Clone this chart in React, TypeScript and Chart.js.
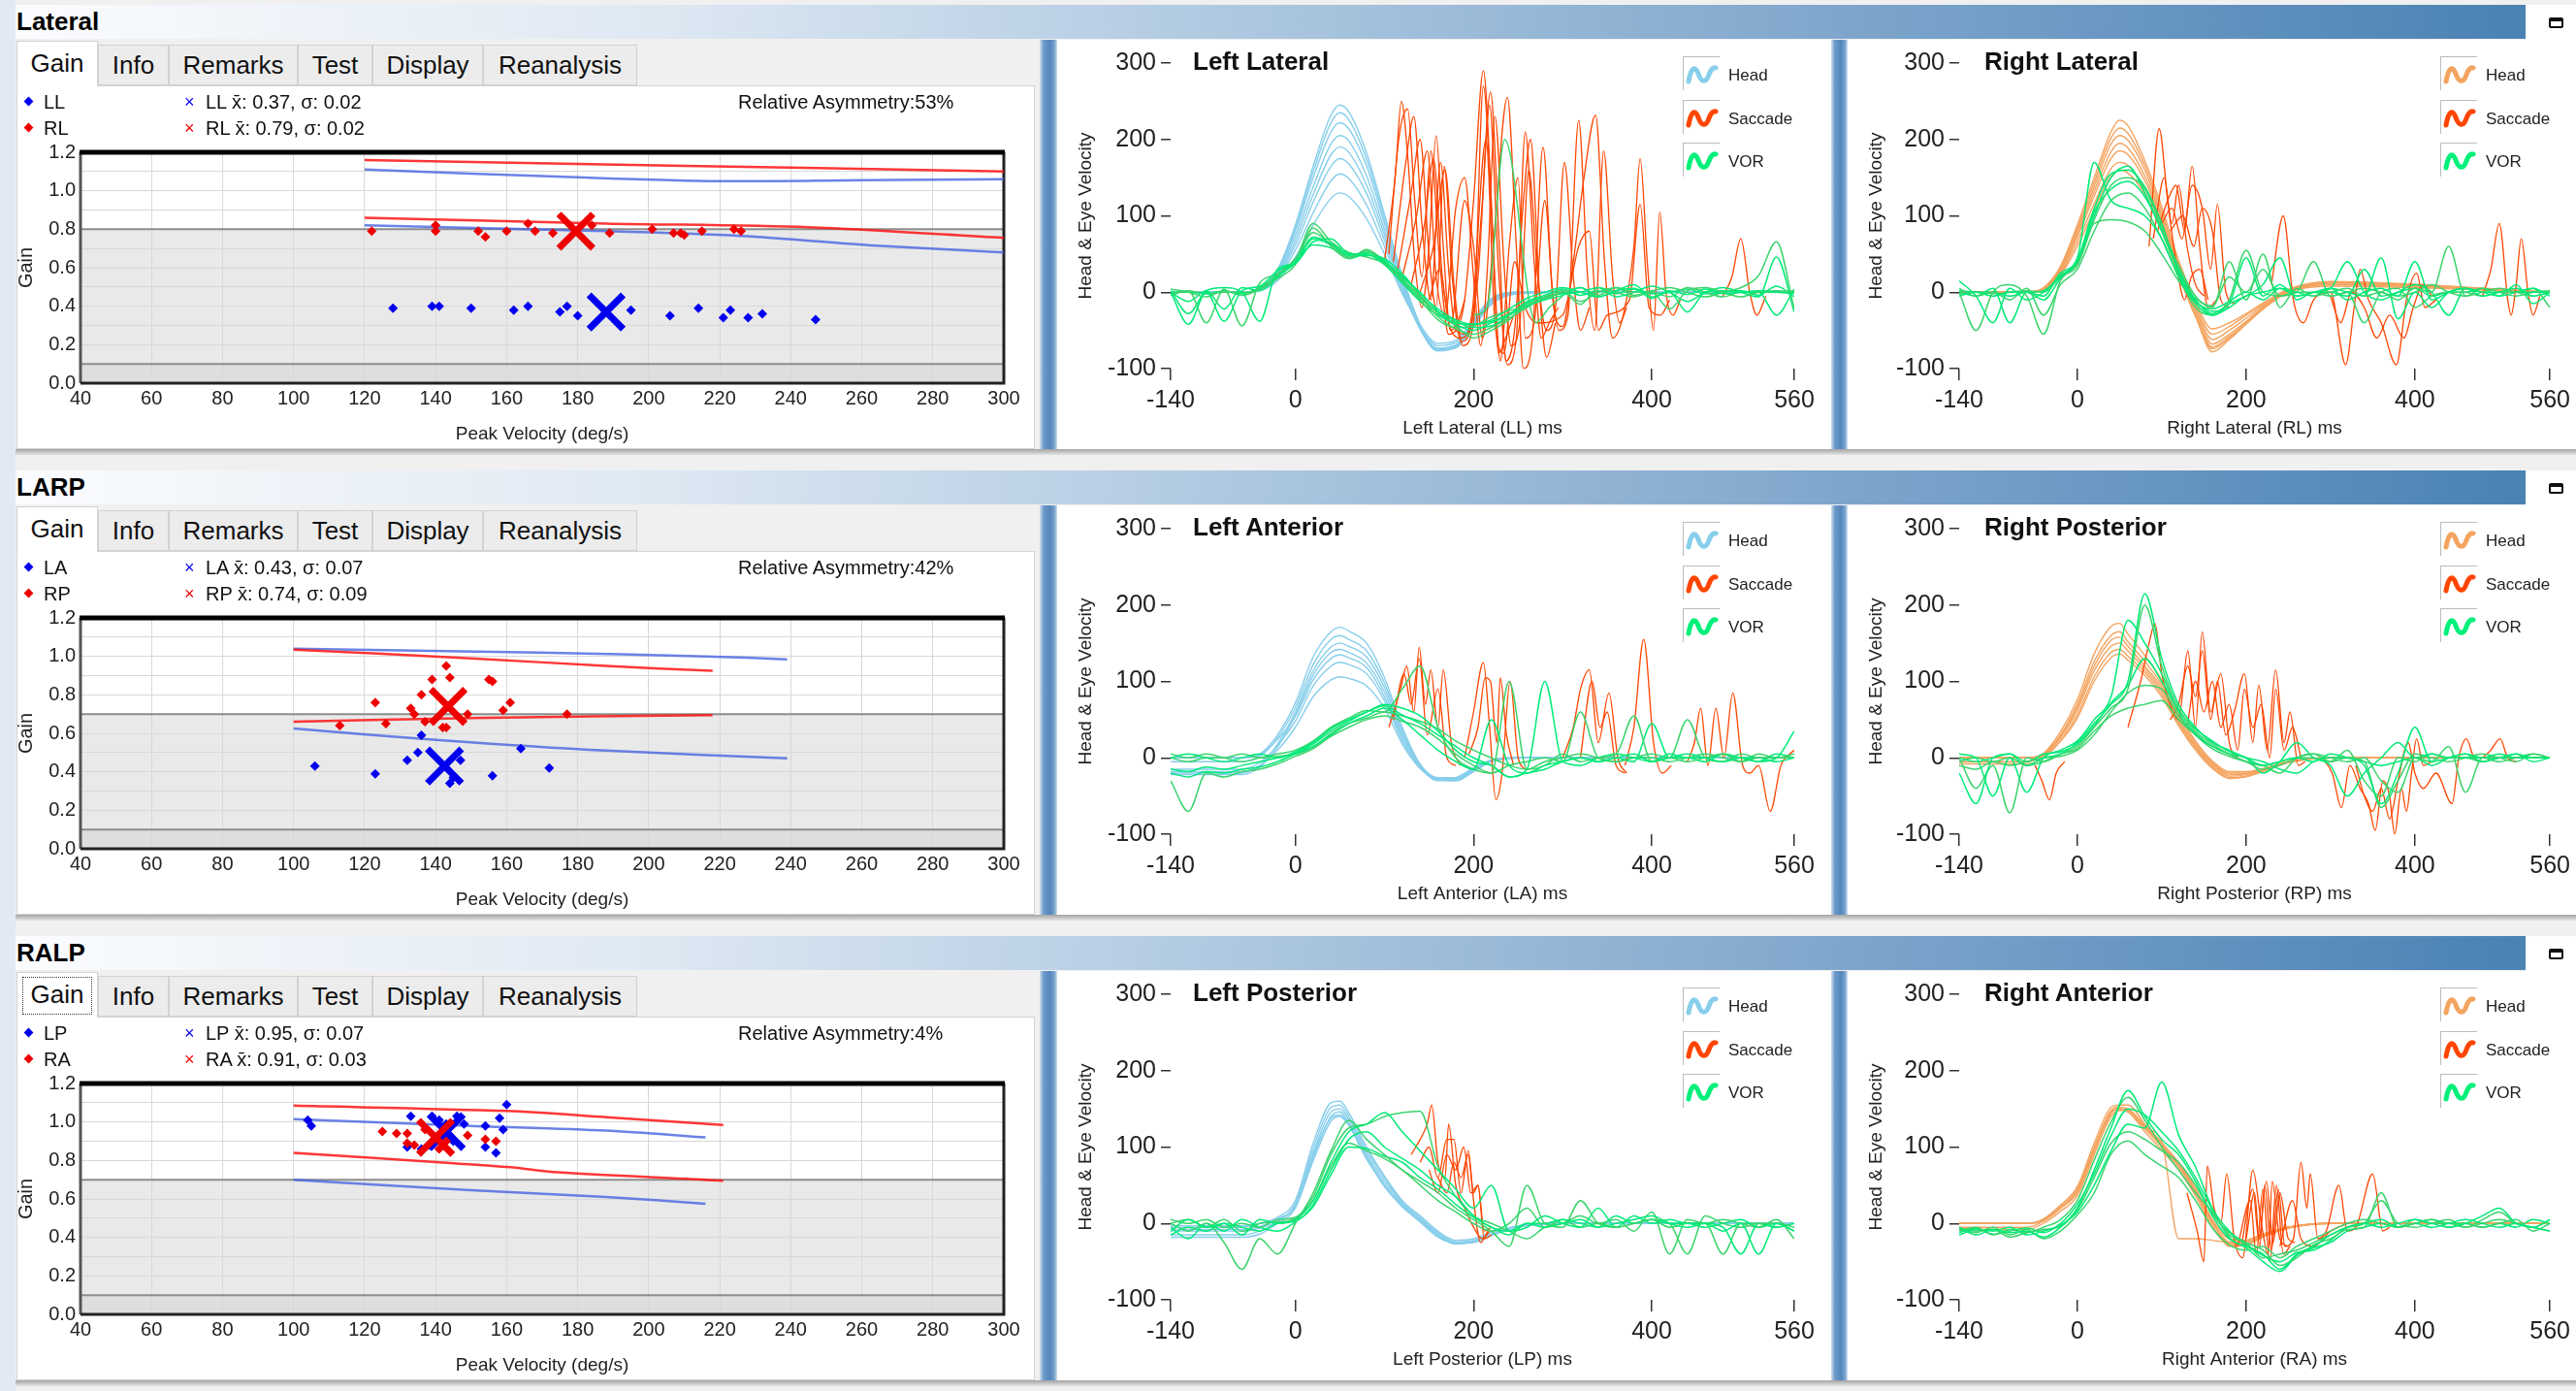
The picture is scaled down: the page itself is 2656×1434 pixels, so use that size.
import React, { useEffect, useRef } from "react";
import { Chart, registerables } from "chart.js";

Chart.register(...registerables);
const FONT = "'Liberation Sans', Arial, Helvetica, sans-serif";
Chart.defaults.font.family = FONT;

type Pair = [number, number];

// ---------------- categories / labels ----------------
const ROW_NAMES = ["Lateral", "LARP", "RALP"];
const TAB_LABELS = ["Gain", "Info", "Remarks", "Test", "Display", "Reanalysis"];
const LEFT_CANAL = ["LL", "LA", "LP"];
const RIGHT_CANAL = ["RL", "RP", "RA"];
const LEFT_MEAN_TXT = ["0.37", "0.43", "0.95"];
const LEFT_SD_TXT = ["0.02", "0.07", "0.07"];
const RIGHT_MEAN_TXT = ["0.79", "0.74", "0.91"];
const RIGHT_SD_TXT = ["0.02", "0.09", "0.03"];
const ASYMMETRY_TXT = ["53%", "42%", "4%"];
const GAIN_THRESHOLD = [0.8, 0.7, 0.7];
const WAVE_TITLES = [["Left Lateral", "Right Lateral"], ["Left Anterior", "Right Posterior"], ["Left Posterior", "Right Anterior"]];
const WAVE_X_TITLES = [["Left Lateral (LL) ms", "Right Lateral (RL) ms"], ["Left Anterior (LA) ms", "Right Posterior (RP) ms"], ["Left Posterior (LP) ms", "Right Anterior (RA) ms"]];
const WAVE_X_TICKS = [-140, 0, 200, 400, 560];
const WAVE_Y_TICKS = [-100, 0, 100, 200, 300];
const LEGEND_LABELS = ["Head", "Saccade", "VOR"];

// ---------------- gain scatter data ----------------
const LL_POINTS: Pair[] = [[128,0.39],[139,0.40],[141,0.40],[150,0.39],[162,0.38],[166,0.40],[175,0.37],[177,0.40],[180,0.35],[195,0.38],[206,0.35],[214,0.39],[221,0.34],[223,0.38],[228,0.34],[232,0.36],[247,0.33]];
const RL_POINTS: Pair[] = [[122,0.79],[140,0.82],[140,0.79],[152,0.79],[154,0.76],[160,0.79],[166,0.83],[168,0.79],[173,0.78],[184,0.82],[189,0.78],[201,0.80],[207,0.78],[209,0.78],[210,0.77],[215,0.79],[224,0.80],[226,0.79]];
const LA_POINTS: Pair[] = [[106,0.43],[123,0.39],[132,0.46],[135,0.50],[136,0.59],[147,0.46],[144,0.34],[145,0.37],[156,0.38],[164,0.52],[172,0.42]];
const RP_POINTS: Pair[] = [[143,0.95],[139,0.88],[144,0.89],[155,0.88],[156,0.87],[136,0.80],[123,0.76],[133,0.73],[134,0.70],[161,0.76],[159,0.72],[177,0.70],[149,0.70],[113,0.64],[126,0.65],[137,0.66],[142,0.63],[143,0.63]];
const LP_POINTS: Pair[] = [[104,1.01],[105,0.98],[133,1.03],[132,0.87],[136,0.86],[139,1.03],[141,1.01],[143,0.99],[146,1.03],[148,0.99],[145,0.90],[154,0.98],[154,0.87],[158,1.02],[159,0.96],[157,0.84],[160,1.09],[138,0.88],[144,0.93]];
const RA_POINTS: Pair[] = [[125,0.95],[129,0.94],[132,0.94],[132,0.89],[134,0.88],[137,0.96],[149,0.93],[154,0.91],[157,0.90],[141,0.86],[143,0.90]];
const LL_MEAN: Pair = [188, 0.37];
const RL_MEAN: Pair = [179.5, 0.79];
const LA_MEAN: Pair = [142.5, 0.43];
const RP_MEAN: Pair = [143.5, 0.74];
const LP_MEAN: Pair = [143, 0.95];
const RA_MEAN: Pair = [140, 0.92];

const LAT_RED_HI: Pair[] = [[120,1.16],[180,1.14],[240,1.12],[300,1.10]];
const LAT_BLUE_HI: Pair[] = [[120,1.11],[180,1.07],[220,1.05],[260,1.055],[300,1.06]];
const LAT_RED_LO: Pair[] = [[120,0.86],[188,0.83],[245,0.81],[300,0.755]];
const LAT_BLUE_LO: Pair[] = [[120,0.82],[188,0.79],[226,0.765],[264,0.715],[300,0.68]];
const LARP_RED_HI: Pair[] = [[100,1.035],[150,0.99],[188,0.95],[218,0.925]];
const LARP_BLUE_HI: Pair[] = [[100,1.04],[169,1.02],[216,1.0],[239,0.985]];
const LARP_RED_LO: Pair[] = [[100,0.66],[150,0.68],[218,0.695]];
const LARP_BLUE_LO: Pair[] = [[100,0.625],[141,0.565],[188,0.51],[239,0.47]];
const RALP_RED_HI: Pair[] = [[100,1.085],[160,1.057],[188,1.025],[221,0.985]];
const RALP_BLUE_HI: Pair[] = [[100,1.015],[150,0.98],[188,0.955],[216,0.92]];
const RALP_RED_LO: Pair[] = [[100,0.84],[141,0.79],[161,0.765],[173,0.74],[221,0.695]];
const RALP_BLUE_LO: Pair[] = [[100,0.70],[150,0.645],[188,0.61],[216,0.575]];

// ---------------- waveform data ----------------
const T20 = [-140,-120,-100,-80,-60,-40,-20,0,20,40,60,80,100,120,140,160,180,200,220,240,260,280,300,320,340,360,380,400,420,440,460,480,500,520,540,560];
const HT = [-140,-60,-40,-20,0,20,40,50,60,80,100,120,140,160,180,200,220,250,300,560];

const LL_HEAD = [
  [0,0,5,30,88,165,232,245,236,182,102,22,-42,-74,-72,-46,-16,-2,0,0],
  [0,0,4,28,84,158,222,235,226,174,96,18,-45,-75,-73,-44,-14,-2,0,0],
  [0,0,4,26,80,150,210,222,214,165,90,14,-46,-76,-71,-42,-12,-1,0,0],
  [0,0,3,24,74,138,194,205,198,152,82,10,-48,-77,-72,-43,-13,-1,0,0],
  [0,0,3,22,68,128,180,190,183,140,75,6,-47,-73,-69,-40,-11,-1,0,0],
  [0,0,3,20,62,118,165,175,168,129,68,4,-48,-74,-70,-41,-10,0,0,0],
  [0,0,2,18,55,104,146,155,149,114,60,1,-45,-70,-66,-38,-9,0,0,0],
  [0,0,2,15,46,88,123,130,125,96,50,-2,-43,-67,-63,-36,-8,0,0,0],
];
const LL_VOR = [
  [0,-42,0,-38,2,8,28,40,72,64,50,50,40,20,0,-25,-42,-50,-40,-30,-18,-10,-4,6,-6,2,5,-8,2,-3,4,-2,0,2,0,-2],
  [-4,2,-40,4,-44,12,24,44,78,62,46,54,38,18,-6,-32,-48,-55,-46,-34,-20,-6,2,-12,0,6,-4,0,-22,2,6,0,-6,0,2,0],
  [2,-28,2,6,0,-38,30,38,66,70,50,48,44,24,-2,-22,-36,-42,-36,-22,-8,0,6,0,-6,2,10,-6,0,-26,0,2,0,0,-30,4],
  [4,0,-6,2,-4,4,18,36,84,60,44,56,40,14,-10,-36,-46,-44,-32,-24,-18,-8,0,6,-4,6,0,2,6,0,-6,0,6,22,66,-22],
  [0,-12,2,-22,6,2,20,40,62,58,44,50,36,12,-12,-30,-40,-42,-38,-28,-14,-6,-2,0,6,-6,0,8,0,-12,0,6,0,-6,46,-26],
  [-2,2,-2,0,0,4,24,42,90,66,52,46,38,22,-4,-28,-44,-60,-50,-36,-16,-10,0,-16,6,0,-6,0,-6,6,0,-6,0,0,0,2],
  [0,0,-2,2,-2,6,22,38,70,62,48,52,42,16,-8,-26,-38,-46,-44,-30,-12,-4,4,-4,2,-2,4,-2,0,4,-2,0,2,-4,8,-6],
];
const LL_VOR_EXTRA: Pair[][] = [[[200,-30],[215,-20],[235,200],[270,-40],[285,-20],[300,-5]]];
const LL_SACCADE: Pair[][] = [
  [[100,40],[112,150],[119,250],[126,180],[134,40],[142,-20],[150,60],[158,205],[166,60],[174,-50],[182,-40],[190,-10]],
  [[105,50],[116,200],[126,240],[134,120],[142,20],[152,185],[162,40],[172,-55],[180,-50],[190,-10],[200,120],[211,290],[220,120],[228,-80],[236,-60],[245,-30]],
  [[110,40],[124,170],[133,230],[142,90],[152,-10],[163,170],[172,30],[180,-50],[192,-55],[205,20],[219,262],[229,60],[236,-90],[246,-50],[256,120],[264,200],[274,0],[282,-85],[292,-40]],
  [[115,30],[130,130],[140,200],[150,50],[158,-20],[167,165],[176,20],[186,-65],[198,-40],[210,120],[218,245],[228,30],[238,-95],[248,-60],[258,210],[268,40],[276,-60],[285,-40],[295,-20]],
  [[120,20],[136,100],[148,185],[158,20],[168,-30],[180,110],[190,150],[200,20],[208,-70],[216,40],[224,230],[234,40],[242,-70],[252,-40],[262,160],[272,20],[282,-50],[292,-20],[302,170],[312,20],[320,-50],[330,-20]],
  [[130,10],[145,90],[155,175],[165,20],[175,-40],[190,120],[200,60],[210,-60],[222,60],[238,255],[248,60],[256,-100],[266,-60],[278,190],[288,10],[296,-50],[306,-30],[318,225],[328,20],[336,-50],[346,185],[356,20],[364,-40],[372,-20]],
  [[140,0],[155,60],[168,160],[178,10],[188,-70],[200,-40],[211,270],[222,60],[230,-90],[240,60],[250,150],[258,-60],[268,-40],[280,120],[290,-20],[300,-45],[312,40],[324,150],[337,232],[347,40],[356,-60],[368,-30],[380,60],[387,175],[395,40],[402,-50],[409,105],[416,0],[424,-30],[432,-10]],
  [[150,-10],[162,30],[172,-40],[186,-60],[198,-30],[214,200],[224,-40],[234,-80],[246,40],[258,-20],[272,-40],[300,-30],[318,60],[330,80],[340,-50],[350,-30],[375,-10],[387,115],[397,-20],[410,-30],[420,-10]],
  [[480,-5],[490,20],[500,70],[510,0],[518,-30],[528,-5]],
];

const RL_HEAD = [
  [0,0,6,34,88,150,210,225,218,172,112,42,-12,-48,-40,-28,-14,4,14,0],
  [0,0,5,32,84,144,202,215,208,166,106,38,-16,-55,-45,-30,-16,3,13,0],
  [0,0,5,30,80,138,194,205,199,160,100,34,-20,-62,-50,-34,-18,2,12,0],
  [0,0,4,28,76,132,184,195,189,152,96,30,-24,-68,-55,-38,-20,2,12,0],
  [0,0,4,26,72,126,175,185,180,146,92,28,-28,-74,-60,-40,-22,1,10,0],
  [0,0,4,24,66,116,162,170,166,136,86,26,-30,-78,-62,-42,-22,0,10,0],
  [0,0,3,22,60,108,152,160,156,128,80,22,-32,-72,-58,-40,-20,0,8,0],
];
const RL_VOR = [
  [15,-5,-40,5,-10,0,20,40,100,150,165,130,80,30,-10,-25,-15,45,-5,10,-5,0,5,-10,0,5,-5,40,-10,0,5,-5,0,5,-5,0],
  [0,-50,0,10,-5,-55,15,35,95,140,150,135,85,35,-5,-20,40,-10,50,-20,5,-5,0,5,-5,0,-10,5,0,60,-5,0,5,0,-5,0],
  [-5,0,-5,0,0,-5,25,45,170,120,110,100,70,20,-15,-30,-20,-5,0,5,0,-5,5,0,-5,45,-35,0,-20,0,5,0,-5,0,5,-5],
  [5,-5,0,-10,5,-30,10,30,80,120,130,110,70,20,-20,-30,-10,55,0,-5,0,40,-5,0,-40,0,5,-20,-5,0,0,-5,0,0,5,-20],
  [0,-5,5,-40,0,-10,18,42,110,155,160,138,90,25,-12,-22,-12,0,-10,5,-5,0,5,40,0,-10,0,10,0,-30,5,0,0,0,0,0],
  [-2,0,-2,0,2,0,20,38,90,95,92,80,50,15,-8,-18,20,0,30,-5,0,0,-5,0,5,0,-5,0,10,0,-5,5,0,-5,0,2],
  [2,0,0,-5,0,2,22,40,105,135,145,125,80,28,-10,-28,-15,-5,10,45,-10,0,0,-5,30,-5,0,5,-5,0,0,5,-5,10,-15,0],
];
const RL_SACCADE: Pair[][] = [
  [[85,60],[97,214],[107,120],[117,40],[127,-10],[135,20],[145,30],[155,-10]],
  [[90,70],[103,150],[112,90],[120,140],[130,60],[140,10],[150,-5]],
  [[95,80],[107,120],[117,140],[127,80],[136,165],[145,60],[155,-20],[165,-10]],
  [[100,90],[112,110],[124,70],[136,140],[148,110],[158,30],[166,115],[176,0],[186,-15]],
  [[110,80],[125,100],[138,60],[148,110],[160,80],[170,-10],[180,-20]],
  [[230,10],[244,100],[256,-10],[268,-40],[280,-10],[300,0],[318,-95],[328,-20],[335,30],[345,-10],[360,-40],[378,-95],[390,-10],[402,25],[412,-20],[425,-10]],
  [[300,-5],[312,-40],[325,0],[340,-20],[355,-60],[370,-30],[387,-60],[398,-20],[410,10],[420,-5]],
  [[480,-5],[490,30],[500,90],[510,-10],[514,-30],[520,10],[526,70],[534,0],[540,-30],[548,-5]],
];

const LA_HEAD = [
  [0,0,5,30,72,132,165,171,166,150,105,40,-8,-28,-30,-18,-5,0,0,0],
  [-5,-5,2,26,66,122,155,160,155,140,98,36,-10,-28,-29,-16,-4,0,0,0],
  [-18,-18,-10,18,60,114,145,150,146,132,92,32,-10,-27,-28,-15,-4,0,0,0],
  [-22,-22,-12,14,56,108,138,142,138,124,86,28,-12,-30,-30,-18,-5,0,0,0],
  [0,0,4,24,54,102,130,135,131,118,80,26,-10,-26,-26,-14,-3,0,0,0],
  [-15,-15,-6,16,48,94,120,125,122,110,75,22,-12,-28,-27,-14,-3,0,0,0],
  [-20,-20,-10,10,40,80,102,106,104,94,65,18,-14,-28,-26,-13,-3,0,0,0],
];
const LA_VOR = [
  [-20,-25,-18,-20,-15,-12,-5,5,15,30,45,55,65,50,30,10,-5,-15,50,-10,-20,-10,-5,0,-5,0,5,-5,0,5,0,-5,0,-5,0,35],
  [-30,-70,-20,-25,-18,-15,-8,2,12,28,40,50,55,48,40,25,5,-10,-20,100,-15,-10,5,-5,0,5,55,-5,0,-5,0,5,-5,0,0,5],
  [0,5,0,-5,0,5,0,8,20,38,50,60,70,65,55,35,10,-5,-10,-25,-15,100,-5,-10,0,5,0,-5,5,0,0,5,0,0,-5,0],
  [5,0,5,0,-5,0,5,10,22,40,52,62,60,90,120,40,0,-15,-20,-10,-5,0,-5,60,0,-5,0,5,0,50,0,-5,5,0,0,0],
  [-15,-18,-12,-15,-10,-5,0,6,18,35,48,60,68,56,45,30,15,0,-10,-25,-20,-15,-5,0,-5,0,-5,45,0,0,-5,5,0,-5,5,0],
  [0,-5,0,0,5,0,2,5,14,32,45,52,60,55,48,38,22,10,0,-10,-15,-5,0,5,0,-5,0,0,-5,0,5,0,-5,5,0,0],
];
const LA_SACCADE: Pair[][] = [
  [[105,40],[118,90],[125,120],[133,60],[139,145],[146,70],[152,115],[160,40],[166,115],[175,20],[185,-10]],
  [[110,50],[122,110],[130,70],[139,130],[148,30],[160,90],[170,0],[180,-10]],
  [[190,0],[200,60],[211,125],[218,40],[225,-55],[232,-20],[241,100],[250,0],[258,-15]],
  [[195,5],[205,40],[213,105],[219,100],[226,20],[230,105],[237,30],[245,-10]],
  [[300,0],[312,40],[320,90],[330,115],[340,20],[352,85],[362,0],[372,-20]],
  [[370,-10],[380,40],[391,155],[402,20],[412,-20],[422,-10]],
  [[440,-5],[448,20],[455,65],[463,-10],[472,65],[481,0],[491,85],[502,-10],[510,-20],[520,-10],[533,-70],[545,-10],[555,5],[560,10]],
  [[320,0],[333,100],[342,40],[350,60],[360,-10],[370,-20]],
];

const RP_HEAD = [
  [0,0,6,34,76,136,172,176,162,134,102,58,22,-4,-18,-18,-14,-5,0,0],
  [0,0,5,30,70,126,160,165,152,126,96,54,20,-6,-20,-20,-15,-5,0,0],
  [-5,-5,3,28,66,120,154,158,146,120,92,50,17,-8,-22,-21,-16,-6,0,0],
  [0,0,4,26,62,114,146,150,140,116,88,48,15,-10,-24,-22,-16,-5,0,0],
  [-8,-8,0,22,56,106,138,142,133,112,84,45,13,-12,-26,-24,-17,-6,0,0],
  [0,0,3,22,52,100,131,136,128,108,80,42,10,-14,-27,-25,-18,-6,0,0],
];
const RP_VOR = [
  [-20,-60,0,5,-10,0,5,20,45,70,100,215,130,70,40,20,10,0,-10,-5,0,-5,5,0,-10,-60,-20,40,-5,0,5,-5,0,5,0,0],
  [0,-40,-10,-72,0,-5,5,15,40,65,90,200,120,65,35,18,5,-5,-15,-10,0,5,0,-5,0,-30,-45,0,-5,15,-45,0,-5,0,5,0],
  [5,0,-50,0,-45,0,10,22,50,80,180,150,110,60,32,15,5,0,-20,-5,20,0,-10,-50,-20,0,20,0,5,0,0,0,5,0,0,0],
  [-10,-15,-5,-10,-5,0,2,10,30,60,85,95,90,55,30,12,2,-5,-10,-20,0,5,-5,0,-5,-65,-30,5,0,-5,0,5,0,-5,5,0],
  [0,-5,0,5,-5,5,8,18,42,72,95,130,100,62,38,22,8,0,-5,-15,-20,-5,0,0,-5,-10,-5,0,-10,0,5,0,0,5,-5,0],
  [-5,0,-5,0,-10,-5,5,12,35,55,65,70,75,50,30,15,5,-5,-10,-5,0,0,-5,10,-30,-50,0,-5,5,0,0,-5,0,0,0,0],
];
const RP_SACCADE: Pair[][] = [
  [[60,40],[75,100],[85,150],[92,176],[100,110],[110,70],[120,50],[131,140],[140,40],[148,165],[158,60],[170,110],[180,20],[190,0]],
  [[110,50],[120,70],[131,120],[140,80],[148,140],[158,50],[166,100],[176,30],[186,60],[198,110],[208,20],[215,95],[225,10],[235,115],[245,20],[252,60],[262,-10],[270,-5]],
  [[130,40],[140,100],[150,60],[160,100],[170,40],[180,70],[190,10],[198,90],[208,40],[218,70],[228,0],[235,90],[245,10],[255,40],[265,0]],
  [[-50,-10],[-42,-30],[-33,-55],[-25,-20],[-15,-5]],
  [[290,0],[302,-20],[313,-65],[323,-10],[335,-40],[345,-60],[353,-95],[362,-30],[370,-50],[376,-100],[384,-40],[390,-70],[396,-20],[402,25],[410,-10],[420,-5]],
  [[330,-10],[340,-50],[350,-70],[360,-40],[370,-80],[380,-30],[392,20],[400,-20],[410,-40],[425,-20],[444,-60],[452,0],[461,25],[470,0],[480,-5]],
  [[480,0],[490,10],[501,25],[510,0],[520,-5]],
];

const LP_HEAD = [
  [-5,-5,0,8,30,105,158,160,145,100,62,30,10,-10,-22,-20,-12,-3,0,0],
  [-15,-15,-10,2,26,98,152,155,140,96,60,28,8,-12,-24,-22,-14,-4,0,0],
  [-8,-8,-4,6,24,92,146,150,136,92,56,26,6,-14,-25,-24,-15,-4,0,0],
  [-18,-18,-14,0,20,86,140,146,132,88,52,24,4,-15,-26,-25,-16,-5,0,0],
  [-3,-3,0,5,22,82,134,140,128,84,50,22,3,-16,-27,-24,-15,-4,0,0],
  [-10,-10,-6,3,24,90,138,142,130,86,48,22,2,-18,-26,-24,-15,-4,0,0],
];
const LP_VOR = [
  [-10,5,-5,0,-15,5,0,5,30,80,120,130,145,120,95,70,45,20,50,-10,0,-5,0,5,-5,0,5,10,0,-5,0,-10,0,-40,0,-10],
  [0,-10,0,-25,-60,-20,-40,0,40,95,135,110,90,70,55,40,20,5,-10,-30,50,0,-5,30,0,-5,0,5,0,-40,10,0,-5,0,0,-5],
  [-15,-5,-10,0,-5,-10,0,3,25,70,110,120,100,85,70,50,35,10,-5,-10,-5,10,0,-5,20,-5,10,0,5,0,0,-5,-40,0,-5,0],
  [5,0,5,-5,0,-5,5,8,35,90,125,130,140,145,147,75,35,10,0,-10,-20,-5,0,10,0,5,-10,15,-40,5,0,5,0,-5,5,-20],
  [-5,-20,0,-10,5,-5,-10,2,22,64,100,98,88,80,60,45,25,8,-5,-15,0,0,5,0,-5,10,0,5,0,0,-5,0,5,-5,0,-10],
  [0,5,-5,5,-10,0,2,6,30,75,105,95,85,70,50,30,15,0,-10,0,20,-5,5,-5,0,-5,0,5,-5,0,0,-40,0,0,-5,0],
];
const LP_SACCADE: Pair[][] = [
  [[130,90],[140,110],[148,130],[153,155],[160,80],[168,60],[172,130],[180,50],[190,20],[200,-5],[210,-20],[218,-10]],
  [[140,80],[150,100],[160,60],[170,110],[178,110],[186,40],[194,95],[200,30],[208,-25],[216,-10]],
  [[150,70],[160,40],[170,90],[180,70],[189,100],[197,40],[205,50],[212,-10],[220,-5]],
  [[160,60],[170,40],[178,80],[186,60],[194,90],[200,40],[205,50],[212,-20],[220,-15]],
];

const RA_HEAD = [
  [0,0,6,24,48,105,152,155,155,130,106,80,46,5,-20,-22,-14,-5,0,0],
  [-5,-5,3,20,42,98,148,152,150,126,102,76,42,2,-24,-24,-15,-5,0,0],
  [0,0,5,22,45,100,146,150,148,124,100,74,40,0,-26,-26,-16,-5,0,0],
  [-8,-8,0,16,36,90,140,148,146,120,96,70,36,-4,-28,-27,-17,-6,0,0],
  [0,0,4,20,40,95,144,150,149,128,104,78,44,4,-30,-28,-18,-6,0,0],
  [0,0,4,20,42,96,145,150,148,125,108,-20,-20,-22,-25,-22,-14,-5,0,0],
];
const RA_VOR = [
  [-5,-15,-8,-12,-10,-18,-5,20,70,125,174,140,110,90,55,10,-20,-30,-40,-60,-40,-30,-15,-5,0,-5,0,5,0,-5,0,10,20,0,-5,-10],
  [-10,-5,-15,-8,-12,-5,5,30,83,133,165,135,100,70,40,15,-15,-25,-35,-55,-45,-28,-20,-8,-5,40,-5,0,5,-5,0,-5,0,5,-10,0],
  [-15,-8,-10,-5,-15,-10,-2,15,50,95,130,125,185,116,74,20,-10,-28,-42,-50,-38,-35,-22,-5,0,5,-5,0,-5,0,5,0,-5,0,-5,5],
  [-8,-12,-5,-15,-8,-20,-10,11,40,91,108,90,75,60,30,-6,-28,-35,-30,-45,-30,-20,-10,0,5,0,-5,5,0,0,-5,5,15,0,-5,-10],
  [-12,-6,-14,-10,-6,-12,0,25,65,115,150,142,120,95,60,18,-18,-32,-50,-63,-42,-32,-25,-10,-5,0,-5,0,5,0,0,-5,0,-5,5,0],
  [-6,-10,-8,-18,-12,-8,-4,18,60,105,120,110,95,80,50,12,-12,-25,-45,-40,-35,-25,-15,-5,0,30,0,-5,0,5,-5,0,5,0,-5,5],
];
const RA_SACCADE: Pair[][] = [
  [[130,40],[142,-10],[150,-50],[154,75],[162,20],[170,0],[177,65],[186,-20],[196,-45],[208,70],[218,0],[226,-40],[231,55],[240,-20],[250,-30]],
  [[200,-20],[210,40],[216,-30],[222,50],[230,-35],[238,45],[246,-30],[256,-20],[265,80],[272,20],[276,65],[285,-20],[295,-10],[310,50],[320,-10],[330,-5],[350,65],[362,-10],[370,-5]],
  [[190,-30],[205,30],[212,-40],[220,45],[228,-50],[236,50],[244,-40],[252,-30]],
  [[195,-25],[208,45],[215,-20],[224,55],[232,-25],[240,40],[250,-20],[258,-25]],
  [[240,-30],[255,30],[265,-20],[280,-30],[300,-10],[320,0]],
];

// ---------------- styling constants ----------------
const HEAD_LEFT_COLOR = "#87ceeb";
const HEAD_RIGHT_COLOR = "#f4a460";
const SACCADE_COLOR = "#ff4500";
const VOR_COLORS = ["#00ea78", "#3ad46c"];
const VOR_LEGEND = "#00f07a";
const RED = "#ee0000";
const BLUE = "#0000ee";

type WaveSpec = { head: number[][]; vor: number[][]; vorExtra: Pair[][]; sacc: Pair[][]; headColor: string };
const WAVES: WaveSpec[][] = [
  [
    { head: LL_HEAD, vor: LL_VOR, vorExtra: LL_VOR_EXTRA, sacc: LL_SACCADE, headColor: HEAD_LEFT_COLOR },
    { head: RL_HEAD, vor: RL_VOR, vorExtra: [], sacc: RL_SACCADE, headColor: HEAD_RIGHT_COLOR },
  ],
  [
    { head: LA_HEAD, vor: LA_VOR, vorExtra: [], sacc: LA_SACCADE, headColor: HEAD_LEFT_COLOR },
    { head: RP_HEAD, vor: RP_VOR, vorExtra: [], sacc: RP_SACCADE, headColor: HEAD_RIGHT_COLOR },
  ],
  [
    { head: LP_HEAD, vor: LP_VOR, vorExtra: [], sacc: LP_SACCADE, headColor: HEAD_LEFT_COLOR },
    { head: RA_HEAD, vor: RA_VOR, vorExtra: [], sacc: RA_SACCADE, headColor: HEAD_RIGHT_COLOR },
  ],
];

type GainSpec = { left: Pair[]; right: Pair[]; leftMean: Pair; rightMean: Pair; lines: { pts: Pair[]; color: string }[] };
const RED_LINE = "rgba(255,20,20,0.85)";
const BLUE_LINE = "rgba(70,100,225,0.8)";
const GAINS: GainSpec[] = [
  { left: LL_POINTS, right: RL_POINTS, leftMean: LL_MEAN, rightMean: RL_MEAN, lines: [
    { pts: LAT_RED_HI, color: RED_LINE }, { pts: LAT_RED_LO, color: RED_LINE }, { pts: LAT_BLUE_HI, color: BLUE_LINE }, { pts: LAT_BLUE_LO, color: BLUE_LINE } ] },
  { left: LA_POINTS, right: RP_POINTS, leftMean: LA_MEAN, rightMean: RP_MEAN, lines: [
    { pts: LARP_RED_HI, color: RED_LINE }, { pts: LARP_RED_LO, color: RED_LINE }, { pts: LARP_BLUE_HI, color: BLUE_LINE }, { pts: LARP_BLUE_LO, color: BLUE_LINE } ] },
  { left: LP_POINTS, right: RA_POINTS, leftMean: LP_MEAN, rightMean: RA_MEAN, lines: [
    { pts: RALP_RED_HI, color: RED_LINE }, { pts: RALP_RED_LO, color: RED_LINE }, { pts: RALP_BLUE_HI, color: BLUE_LINE }, { pts: RALP_BLUE_LO, color: BLUE_LINE } ] },
];

const toXY = (p: Pair[]) => p.map(([x, y]) => ({ x, y }));

function GainChart({ row }: { row: number }) {
  const ref = useRef<HTMLCanvasElement | null>(null);
  useEffect(() => {
    const g = GAINS[row];
    const threshold = GAIN_THRESHOLD[row];
    const framePlugin = {
      id: "gainFrame",
      beforeDraw(chart: any) {
        const { ctx, chartArea: a, scales } = chart;
        const y = scales.y;
        const yT = y.getPixelForValue(threshold);
        const y1 = y.getPixelForValue(0.1);
        ctx.save();
        ctx.fillStyle = "#ffffff";
        ctx.fillRect(a.left, a.top, a.right - a.left, a.bottom - a.top);
        ctx.fillStyle = "#e9e9e9";
        ctx.fillRect(a.left, yT, a.right - a.left, y1 - yT);
        ctx.fillStyle = "#dedede";
        ctx.fillRect(a.left, y1, a.right - a.left, a.bottom - y1);
        ctx.restore();
      },
      beforeDatasetsDraw(chart: any) {
        const { ctx, chartArea: a, scales } = chart;
        const y = scales.y;
        const yT = y.getPixelForValue(threshold);
        const y1 = y.getPixelForValue(0.1);
        ctx.save();
        ctx.strokeStyle = "#8c8c8c";
        ctx.lineWidth = 2;
        [yT, y1].forEach((yy: number) => {
          ctx.beginPath();
          ctx.moveTo(a.left, yy);
          ctx.lineTo(a.right, yy);
          ctx.stroke();
        });
        ctx.strokeStyle = "#555";
        ctx.lineWidth = 3;
        ctx.beginPath();
        ctx.moveTo(a.left, a.top);
        ctx.lineTo(a.left, a.bottom);
        ctx.stroke();
        ctx.strokeStyle = "#222";
        ctx.beginPath();
        ctx.moveTo(a.left, a.bottom);
        ctx.lineTo(a.right, a.bottom);
        ctx.lineTo(a.right, a.top);
        ctx.stroke();
        ctx.strokeStyle = "#000";
        ctx.lineWidth = 5;
        ctx.beginPath();
        ctx.moveTo(a.left - 1, a.top);
        ctx.lineTo(a.right + 1, a.top);
        ctx.stroke();
        ctx.restore();
      },
    };
    const datasets: any[] = [
      { data: toXY([g.rightMean]), pointStyle: "crossRot", pointRadius: 25, borderWidth: 7, borderColor: RED, backgroundColor: RED },
      { data: toXY([g.leftMean]), pointStyle: "crossRot", pointRadius: 25, borderWidth: 7, borderColor: BLUE, backgroundColor: BLUE },
      { data: toXY(g.right), pointStyle: "rectRot", pointRadius: 5, borderWidth: 0, backgroundColor: RED, borderColor: RED },
      { data: toXY(g.left), pointStyle: "rectRot", pointRadius: 5, borderWidth: 0, backgroundColor: BLUE, borderColor: BLUE },
      ...g.lines.map((l) => ({ data: toXY(l.pts), showLine: true, pointRadius: 0, borderWidth: 2.5, borderColor: l.color, tension: 0.3 })),
    ];
    const chart = new Chart(ref.current as HTMLCanvasElement, {
      type: "scatter",
      data: { datasets },
      plugins: [framePlugin],
      options: {
        animation: false,
        responsive: false,
        events: [],
        layout: { padding: { left: 0, right: 31, top: 69, bottom: 0 } },
        plugins: { legend: { display: false }, tooltip: { enabled: false } },
        scales: {
          x: {
            type: "linear", min: 40, max: 300,
            afterFit: (s: any) => { s.height = 68; },
            grid: { color: "#d8d8d8", drawTicks: false },
            border: { display: false },
            ticks: { stepSize: 20, maxTicksLimit: 30, autoSkip: false, maxRotation: 0, padding: 4, color: "#222", font: { size: 20 } },
            title: { display: true, text: "Peak Velocity (deg/s)", color: "#222", font: { size: 19 }, padding: { top: 0, bottom: 4 } },
          },
          y: {
            type: "linear", min: 0, max: 1.2,
            afterFit: (s: any) => { s.width = 66; },
            grid: { color: "#d8d8d8", drawTicks: false },
            border: { display: false },
            ticks: {
              stepSize: 0.1, maxTicksLimit: 30, autoSkip: false, padding: 5, color: "#222", font: { size: 20 },
              callback: (v: any) => (Math.round(Number(v) * 10) % 2 === 0 ? Number(v).toFixed(1) : ""),
            },
            title: { display: true, text: "Gain", color: "#222", font: { size: 20, lineHeight: 1 }, padding: { top: 0, bottom: 0 } },
          },
        },
      } as any,
    } as any);
    return () => chart.destroy();
  }, [row]);
  return <canvas ref={ref} width={1050} height={375} style={{ position: "absolute", left: 17, top: 83 }} />;
}

function WaveChart({ row, side }: { row: number; side: number }) {
  const ref = useRef<HTMLCanvasElement | null>(null);
  const width = side === 0 ? 798 : 751;
  const padRight = side === 0 ? 38 : 26;
  const yWidth = side === 0 ? 117 : 115;
  useEffect(() => {
    const spec = WAVES[row][side];
    const datasets: any[] = [];
    spec.vor.forEach((tr, i) => datasets.push({ data: T20.map((t, j) => ({ x: t, y: tr[j] })), borderColor: VOR_COLORS[i % 2], borderWidth: 1.5 }));
    spec.vorExtra.forEach((tr) => datasets.push({ data: toXY(tr), borderColor: VOR_COLORS[1], borderWidth: 1.5 }));
    spec.sacc.forEach((tr) => datasets.push({ data: toXY(tr), borderColor: SACCADE_COLOR, borderWidth: 1.3 }));
    spec.head.forEach((tr) => datasets.push({ data: HT.map((t, j) => ({ x: t, y: tr[j] })), borderColor: spec.headColor, borderWidth: 1.4 }));
    const tickFont = { size: 25 };
    const chart = new Chart(ref.current as HTMLCanvasElement, {
      type: "line",
      data: { datasets },
      options: {
        animation: false,
        responsive: false,
        events: [],
        elements: { point: { radius: 0 }, line: { cubicInterpolationMode: "monotone", fill: false } },
        layout: { padding: { left: 0, right: padRight, top: 24, bottom: 0 } },
        plugins: { legend: { display: false }, tooltip: { enabled: false } },
        scales: {
          x: {
            type: "linear", min: -140, max: 560,
            afterBuildTicks: (s: any) => { s.ticks = WAVE_X_TICKS.map((v) => ({ value: v })); },
            afterFit: (s: any) => { s.height = 83; },
            grid: { drawOnChartArea: false, drawTicks: true, tickLength: 12, color: "#333", lineWidth: 1.5 },
            border: { display: false },
            ticks: { autoSkip: false, maxRotation: 0, padding: 6, color: "#222", font: tickFont },
            title: { display: true, text: WAVE_X_TITLES[row][side], color: "#222", font: { size: 19 }, padding: { top: 0, bottom: 10 } },
          },
          y: {
            type: "linear", min: -100, max: 300,
            afterBuildTicks: (s: any) => { s.ticks = WAVE_Y_TICKS.map((v) => ({ value: v })); },
            afterFit: (s: any) => { s.width = yWidth; },
            grid: { drawOnChartArea: false, drawTicks: true, tickLength: 10, color: "#333", lineWidth: 1.5 },
            border: { display: false },
            ticks: { autoSkip: false, padding: 5, color: "#222", font: tickFont },
            title: { display: true, text: "Head & Eye Velocity", color: "#222", font: { size: 19 }, padding: { top: 18, bottom: 0 } },
          },
        },
      } as any,
    } as any);
    return () => chart.destroy();
  }, [row, side]);
  return <canvas ref={ref} width={width} height={422} style={{ position: "absolute", left: side === 0 ? 1090 : 1905, top: 36 }} />;
}

function Squiggle({ color }: { color: string }) {
  return (
    <svg width={34} height={24} viewBox="0 0 34 24" style={{ position: "absolute", left: 2, top: 6 }}>
      <path d="M3 19 C6 3, 10 3, 13 11 C16 20, 21 21, 24 12 C26 6, 29 4, 31 5" stroke={color} strokeWidth={5} fill="none" strokeLinecap="round" />
    </svg>
  );
}

function WaveOverlay({ row, side }: { row: number; side: number }) {
  const titleLeft = side === 0 ? 1230 : 2046;
  const legendLeft = side === 0 ? 1735 : 2516;
  const headColor = side === 0 ? HEAD_LEFT_COLOR : HEAD_RIGHT_COLOR;
  const colors = [headColor, SACCADE_COLOR, VOR_LEGEND];
  return (
    <>
      <div style={{ position: "absolute", left: titleLeft, top: 43, height: 30, lineHeight: "30px", fontWeight: "bold", fontSize: 26, color: "#111", whiteSpace: "nowrap" }}>
        {WAVE_TITLES[row][side]}
      </div>
      {LEGEND_LABELS.map((lab, i) => (
        <React.Fragment key={lab}>
          <div style={{ position: "absolute", left: legendLeft, top: 53 + i * 44.5, width: 38, height: 35, borderTop: "1.5px solid #bcbcbc", borderLeft: "1.5px solid #bcbcbc", boxSizing: "border-box" }}>
            <Squiggle color={colors[i]} />
          </div>
          <div style={{ position: "absolute", left: legendLeft + 47, top: 53 + i * 44.5 + 9, lineHeight: "22px", fontSize: 17, color: "#222", whiteSpace: "nowrap" }}>
            {lab}
          </div>
        </React.Fragment>
      ))}
    </>
  );
}

const TAB_EDGES = [17, 101, 174, 307, 384, 498, 657];

function Row({ r }: { r: number }) {
  const top = 5 + 480 * r;
  const sep = "linear-gradient(to right, #d4e0ee 0%, #6d9bc9 22%, #5586bb 60%, #7aa4cf 85%, #d6e2ef 100%)";
  return (
    <div style={{ position: "absolute", left: 0, top, width: 2656, height: 470 }}>
      <div style={{ position: "absolute", left: 16, top: 0, width: 2588, height: 35, background: "linear-gradient(to right, #fbfcfe 0%, #dfe9f3 25%, #abc6df 50%, #7aa3ca 75%, #4a82b4 100%)" }} />
      <div style={{ position: "absolute", left: 17, top: 0, height: 35, lineHeight: "35px", fontWeight: "bold", fontSize: 26, color: "#000" }}>{ROW_NAMES[r]}</div>
      <div style={{ position: "absolute", left: 2604, top: 0, width: 52, height: 36, background: "#fff" }} />
      <div style={{ position: "absolute", left: 2628, top: 13, width: 15, height: 11, border: "2px solid #111", borderTopWidth: 4, borderRadius: 2, boxSizing: "border-box" }} />
      {/* tab strip */}
      <div style={{ position: "absolute", left: 16, top: 36, width: 1056, height: 47, background: "#f0f0f0" }} />
      {TAB_LABELS.map((t, i) => {
        const sel = i === 0;
        return (
          <div key={t} style={{
            position: "absolute", left: TAB_EDGES[i], top: sel ? 37 : 41, width: TAB_EDGES[i + 1] - TAB_EDGES[i], height: sel ? 47 : 42,
            background: sel ? "#ffffff" : "#ececec", border: "1px solid #d2d2d2", borderBottom: sel ? "none" : "1px solid #d2d2d2",
            boxSizing: "border-box", textAlign: "center", lineHeight: sel ? "44px" : "40px", fontSize: 26, color: "#111", zIndex: sel ? 2 : 1,
          }}>
            {sel && r === 2 ? (
              <div style={{ position: "absolute", left: 5, top: 4, right: 5, bottom: 3, border: "1px dotted #333" }} />
            ) : null}
            {t}
          </div>
        );
      })}
      {/* gain panel */}
      <div style={{ position: "absolute", left: 17, top: 83, width: 1050, height: 375, background: "#fff", border: "1px solid #d4d4d4", boxSizing: "border-box" }} />
      <GainChart row={r} />
      {[0, 1].map((k) => {
        const cy = k === 0 ? 100 : 127;
        const col = k === 0 ? BLUE : RED;
        const name = k === 0 ? LEFT_CANAL[r] : RIGHT_CANAL[r];
        const mean = k === 0 ? LEFT_MEAN_TXT[r] : RIGHT_MEAN_TXT[r];
        const sd = k === 0 ? LEFT_SD_TXT[r] : RIGHT_SD_TXT[r];
        return (
          <React.Fragment key={k}>
            <div style={{ position: "absolute", left: 26, top: cy - 4, width: 7, height: 7, background: col, transform: "rotate(45deg)" }} />
            <div style={{ position: "absolute", left: 45, top: cy - 12, lineHeight: "24px", fontSize: 20, color: "#111" }}>{name}</div>
            <div style={{ position: "absolute", left: 190, top: cy - 12, lineHeight: "24px", fontSize: 18, color: col }}>×</div>
            <div style={{ position: "absolute", left: 212, top: cy - 12, lineHeight: "24px", fontSize: 20, color: "#111", whiteSpace: "nowrap" }}>
              {`${name} x\u0304: ${mean}, \u03c3: ${sd}`}
            </div>
          </React.Fragment>
        );
      })}
      <div style={{ position: "absolute", left: 761, top: 88, lineHeight: "24px", fontSize: 20, color: "#111", whiteSpace: "nowrap" }}>
        {`Relative Asymmetry:${ASYMMETRY_TXT[r]}`}
      </div>
      {/* separators and chart panels */}
      <div style={{ position: "absolute", left: 1072, top: 36, width: 18, height: 422, background: sep }} />
      <div style={{ position: "absolute", left: 1090, top: 36, width: 798, height: 422, background: "#fff" }} />
      <div style={{ position: "absolute", left: 1888, top: 36, width: 17, height: 422, background: sep }} />
      <div style={{ position: "absolute", left: 1905, top: 36, width: 751, height: 422, background: "#fff" }} />
      <WaveChart row={r} side={0} />
      <WaveChart row={r} side={1} />
      <WaveOverlay row={r} side={0} />
      <WaveOverlay row={r} side={1} />
      <div style={{ position: "absolute", left: 16, top: 458, width: 2640, height: 6, background: "linear-gradient(to bottom, #a4a4a4, #e4e4e4)" }} />
    </div>
  );
}

export default function App() {
  return (
    <div style={{ position: "fixed", left: 0, top: 0, width: 2656, height: 1434, background: "#f0f0f0", overflow: "hidden", fontFamily: FONT }}>
      <div style={{ position: "absolute", left: 0, top: 0, width: 16, height: 1434, background: "#e3e9f4" }} />
      {[0, 1, 2].map((r) => <Row key={r} r={r} />)}
    </div>
  );
}
